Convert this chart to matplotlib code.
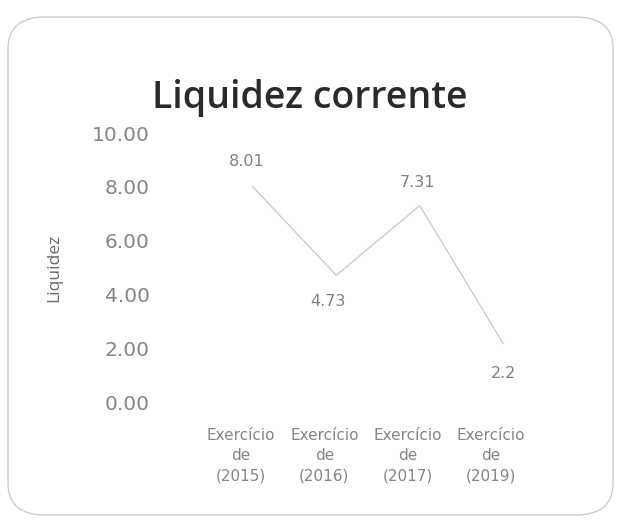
import matplotlib
matplotlib.use("Agg")
import matplotlib.pyplot as plt
from matplotlib.patches import FancyBboxPatch
import matplotlib.transforms as mtransforms

categories = ["Exercício\nde\n(2015)", "Exercício\nde\n(2016)", "Exercício\nde\n(2017)", "Exercício\nde\n(2019)"]
values = [8.01, 4.73, 7.31, 2.2]
value_labels = ["8.01", "4.73", "7.31", "2.2"]
yticks = [0, 2, 4, 6, 8, 10]
ytick_labels = ["0.00", "2.00", "4.00", "6.00", "8.00", "10.00"]

W, H = 619, 525
fig = plt.figure(figsize=(W / 100, H / 100), dpi=100)
fig.patch.set_facecolor("white")

# rounded frame
frame = FancyBboxPatch((8 / W, 10 / H), 605 / W, 498 / H,
                       boxstyle="round,pad=0,rounding_size=0.06",
                       transform=fig.transFigure, facecolor="none",
                       edgecolor="#cccccc", linewidth=1.0, zorder=0)
fig.add_artist(frame)

ax_left, ax_right = 211, 545
ax_top, ax_bottom = 133, 403
ax = fig.add_axes([ax_left / W, (H - ax_bottom) / H, (ax_right - ax_left) / W, (ax_bottom - ax_top) / H])
ax.set_facecolor("none")
ax.set_zorder(2)

x = list(range(len(values)))
ax.plot(x, values, color="#c8c8c8", linewidth=0.9)

offsets = [(-6, 25), (-8, -26), (-2, 23), (0, -30)]
for xi, v, lab, off in zip(x, values, value_labels, offsets):
    ax.annotate(lab, (xi, v), xytext=off, textcoords="offset pixels",
                ha="center", va="center", fontsize=11.5, color="#808080")

ax.set_xlim(-0.5, 3.5)
ax.set_ylim(0, 10)
ax.set_yticks(yticks)
ax.set_yticklabels(ytick_labels, fontsize=14.5, color="#858585")
ax.set_xticks(x)
ax.set_xticklabels(categories, fontsize=11, color="#858585", linespacing=1.45)
ax.tick_params(axis="both", length=0)
ax.tick_params(axis="y", pad=44)
ax.tick_params(axis="x", pad=18)
shift = mtransforms.ScaledTranslation(-12 / 100, 0, fig.dpi_scale_trans)
for t in ax.get_xticklabels():
    t.set_transform(t.get_transform() + shift)
for s in ax.spines.values():
    s.set_visible(False)

ax.set_ylabel("Liquidez", fontsize=12.5, color="#6a6a6a", family="Open Sans")
ax.yaxis.set_label_coords(-(ax_left - 62) / (ax_right - ax_left), 0.5)

fig.text(310 / W, 1 - 98 / H, "Liquidez corrente", ha="center", va="center",
         fontsize=27, fontweight="semibold", family="Open Sans", color="#2a2a2a")

fig.savefig("out.png", dpi=100, facecolor="white")
